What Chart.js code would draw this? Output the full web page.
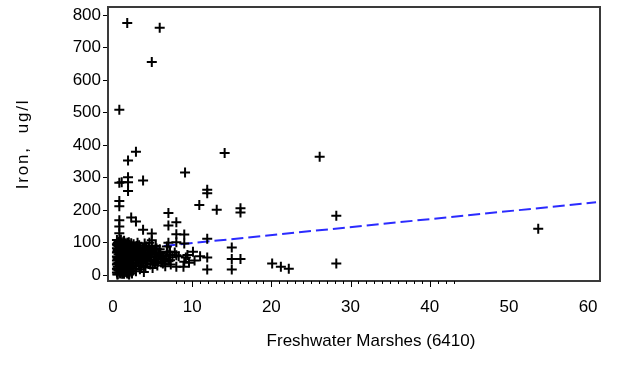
<!DOCTYPE html>
<html>
<head>
<meta charset="utf-8">
<script src="https://cdn.jsdelivr.net/npm/chart.js@4/dist/chart.umd.min.js"></script>
<style>
  html, body { margin: 0; padding: 0; background: #fff; }
  #wrap { width: 619px; height: 368px; position: relative; }
</style>
</head>
<body>
<div id="wrap"><canvas id="marshChart"></canvas></div>
<script>
// Freshwater marsh area (x) and iron concentration (y).
var marshArea = [
  1.8, 5.9, 4.9, 0.8, 2.9, 1.9, 0.8, 1.1, 1.9, 1.9, 1.9, 3.8, 9.1, 14.1, 26.1,
  11.9, 11.9, 10.9, 13.1, 16.1, 16.1, 28.2, 53.7, 0.8, 0.8, 2.3, 2.9, 3.8, 4.9,
  7.0, 7.0, 8.0, 8.0, 9.0, 9.0, 8.0, 7.0, 11.9, 15.0, 15.0, 15.0, 16.1, 11.9,
  11.9, 11.0, 10.1, 20.1, 21.2, 22.2, 28.2, 0.8, 0.8, 0.8, 4.9,
  // dense cluster near the origin
  0.5, 0.5, 0.5, 0.5, 0.5, 0.5, 0.5, 0.5, 0.5,
  0.7, 0.7, 0.7, 0.7, 0.7, 0.7, 0.7, 0.7,
  0.9, 0.9, 0.9, 0.9, 0.9, 0.9, 0.9, 0.9, 0.9,
  1.1, 1.1, 1.1, 1.1, 1.1, 1.1, 1.1, 1.1,
  1.3, 1.3, 1.3, 1.3, 1.3, 1.3, 1.3, 1.3, 1.3,
  1.5, 1.5, 1.5, 1.5, 1.5, 1.5, 1.5, 1.5,
  1.8, 1.8, 1.8, 1.8, 1.8, 1.8, 1.8, 1.8, 1.8,
  2.1, 2.1, 2.1, 2.1, 2.1, 2.1, 2.1, 2.1,
  0.6, 0.6, 0.6, 0.6, 0.6,
  1.0, 1.0, 1.0, 1.0, 1.0,
  1.4, 1.4, 1.4, 1.4, 1.4,
  1.7, 1.7, 1.7, 1.7,
  2.0, 2.0, 2.0, 2.0, 2.0,
  2.3, 2.3, 2.3, 2.3, 2.3,
  2.4, 2.4, 2.4, 2.4,
  0.55, 0.55, 0.55, 0.55, 0.55, 0.55,
  0.85, 0.85, 0.85, 0.85, 0.85, 0.85,
  1.15, 1.15, 1.15, 1.15, 1.15, 1.15,
  1.45, 1.45, 1.45, 1.45, 1.45, 1.45,
  1.75, 1.75, 1.75, 1.75, 1.75, 1.75,
  2.05, 2.05, 2.05, 2.05, 2.05, 2.05,
  // fan spreading to the right
  2.6, 2.8, 3.0, 3.3, 3.5, 3.8, 4.0, 4.3, 4.6, 4.9, 5.2, 5.5, 5.9, 6.2, 6.5, 6.9,
  2.7, 3.0, 3.2, 3.5, 3.8, 4.1, 4.4, 4.7, 5.0, 5.3, 5.6, 6.0, 6.3, 6.6, 7.0, 7.3,
  2.6, 2.9, 3.4, 3.9,
  2.8, 3.1, 3.4, 3.6, 3.9, 4.2, 4.5, 4.8, 5.1, 5.4, 5.7, 6.1, 6.4, 2.9, 3.6, 4.3,
  5.0, 5.7, 4.0, 4.6, 3.1, 6.7, 7.1, 5.4,
  2.7, 3.2, 3.7, 4.2, 4.7, 5.2, 5.8, 2.9, 3.4, 3.9, 4.4, 4.9, 5.5, 6.0,
  3.0, 3.5, 4.1, 4.8, 2.6, 3.3,
  7.2, 7.2, 8.0, 8.0, 8.9, 9.2, 9.0, 7.5, 8.3, 9.4, 9.6, 7.8, 10.3, 6.8
];
var ironLevel = [
  776, 761, 656, 509, 380, 353, 284, 286, 301, 286, 259, 291, 316, 376, 364,
  263, 252, 216, 201, 206, 193, 183, 143, 228, 212, 177, 165, 140, 128,
  191, 153, 163, 126, 125, 97, 101, 100, 112, 85, 50, 17, 50, 54,
  17, 58, 72, 36, 26, 20, 36, 169, 129, 150, 107,
  8, 20, 33, 45, 57, 70, 83, 95, 108,
  14, 26, 39, 51, 64, 76, 89, 102,
  5, 18, 30, 42, 55, 67, 80, 92, 105,
  11, 24, 36, 48, 61, 73, 86, 98,
  6, 16, 28, 40, 53, 66, 79, 90, 103,
  10, 22, 34, 46, 58, 71, 84, 96,
  5, 15, 27, 38, 50, 62, 74, 88, 100,
  9, 20, 31, 44, 56, 68, 81, 93,
  3, 26, 49, 77, 99,
  12, 35, 60, 85, 110,
  4, 31, 57, 82, 106,
  20, 44, 69, 93,
  3, 26, 50, 75, 101,
  14, 37, 62, 86, 98,
  5, 25, 47, 70,
  2, 17, 36, 54, 72, 92,
  9, 29, 47, 63, 84, 99,
  4, 19, 42, 57, 79, 94,
  13, 25, 38, 62, 76, 100,
  8, 31, 46, 58, 81, 95,
  2, 17, 39, 53, 64, 88,
  95, 88, 78, 92, 70, 85, 62, 75, 55, 90, 68, 48, 80, 60, 42, 72,
  60, 45, 30, 52, 38, 25, 44, 33, 22, 40, 30, 52, 36, 27, 45, 33,
  20, 12, 18, 10,
  72, 60, 82, 42, 67, 50, 85, 64, 45, 58, 70, 40, 50, 35, 28, 36,
  34, 42, 97, 100, 100, 57, 62, 90,
  84, 74, 56, 88, 69, 79, 64, 50, 66, 47, 59, 74, 82, 68,
  90, 36, 80, 56, 40, 66,
  72, 46, 61, 26, 26, 54, 41, 55, 58, 62, 38, 70, 45, 88
];

// Fitted regression line end points.
var fitX = [0, 61];
var fitY = [74, 224];

// Axis ticks and titles.
var xTicks = [0, 10, 20, 30, 40, 50, 60];
var yTicks = [0, 100, 200, 300, 400, 500, 600, 700, 800];
var xMinorTicks = [8, 9, 10, 11, 12, 13, 14, 15, 16, 17, 18, 19, 20, 21, 22, 23, 24, 25,
  26, 27, 28, 29, 30, 31, 32, 33, 34, 35, 36, 37, 38, 39, 40, 41, 42, 43];
var xTitle = "Freshwater Marshes (6410)";
var yTitle = "Iron,  ug/l";

var fontFamily = '"Liberation Sans", Arial, sans-serif';

var points = marshArea.map(function (x, i) {
  return { x: x, y: ironLevel[i] };
});
var fitLine = fitX.map(function (x, i) {
  return { x: x, y: fitY[i] };
});

// Frame, minor x ticks and axis titles.
var framePlugin = {
  id: 'frame',
  afterDraw: function (chart) {
    var ctx = chart.ctx;
    var a = chart.chartArea;
    var xs = chart.scales.x;
    ctx.save();
    ctx.strokeStyle = '#3a3a3a';
    ctx.lineWidth = 2;
    ctx.strokeRect(a.left, a.top, a.right - a.left, a.bottom - a.top);

    ctx.strokeStyle = '#000';
    ctx.lineWidth = 1;
    xMinorTicks.forEach(function (v) {
      var px = Math.round(xs.getPixelForValue(v)) + 0.5;
      var len = (v % 10 === 0) ? 6 : 3;
      ctx.beginPath();
      ctx.moveTo(px, a.bottom);
      ctx.lineTo(px, a.bottom + len);
      ctx.stroke();
    });

    ctx.fillStyle = '#000';
    ctx.font = '17px ' + fontFamily;
    ctx.textAlign = 'center';
    ctx.textBaseline = 'middle';
    ctx.fillText(xTitle, (a.left + a.right) / 2 + 17, a.bottom + 60);
    ctx.translate(23, (a.top + a.bottom) / 2);
    ctx.rotate(-Math.PI / 2);
    ctx.letterSpacing = '1.8px';
    ctx.fillText(yTitle, 0, 0);
    ctx.restore();
  }
};

var ctx = document.getElementById('marshChart').getContext('2d');
var chart = new Chart(ctx, {
  type: 'scatter',
  data: {
    datasets: [{
      label: 'Iron',
      data: points,
      pointStyle: 'cross',
      pointRadius: 5,
      borderColor: '#000',
      borderWidth: 2,
      backgroundColor: '#000'
    }, {
      type: 'line',
      label: 'Fit',
      data: fitLine,
      borderColor: '#2b2bff',
      borderWidth: 2,
      borderDash: [12, 5],
      pointRadius: 0,
      fill: false
    }]
  },
  options: {
    responsive: true,
    maintainAspectRatio: false,
    animation: false,
    events: [],
    layout: { padding: { top: 6, right: 19, left: 0, bottom: 0 } },
    plugins: {
      legend: { display: false },
      tooltip: { enabled: false }
    },
    scales: {
      x: {
        type: 'linear',
        min: -0.63,
        max: 61.5,
        afterFit: function (scale) {
          scale.height = 87;
          scale.paddingLeft = 0;
          scale.paddingRight = 0;
        },
        afterBuildTicks: function (scale) {
          scale.ticks = xTicks.map(function (v) { return { value: v }; });
        },
        border: { display: false },
        grid: { drawOnChartArea: false, drawTicks: false },
        ticks: {
          padding: 16,
          color: '#000',
          maxRotation: 0,
          font: { family: fontFamily, size: 17 }
        }
      },
      y: {
        type: 'linear',
        min: -18,
        max: 825,
        afterFit: function (scale) {
          scale.width = 108;
          scale.paddingTop = 0;
          scale.paddingBottom = 0;
        },
        afterBuildTicks: function (scale) {
          scale.ticks = yTicks.map(function (v) { return { value: v }; });
        },
        border: { display: false },
        grid: { drawOnChartArea: false, drawTicks: true, tickLength: 5, color: '#000' },
        ticks: {
          padding: 2,
          color: '#000',
          font: { family: fontFamily, size: 17 }
        }
      }
    }
  },
  plugins: [framePlugin]
});
</script>
</body>
</html>
